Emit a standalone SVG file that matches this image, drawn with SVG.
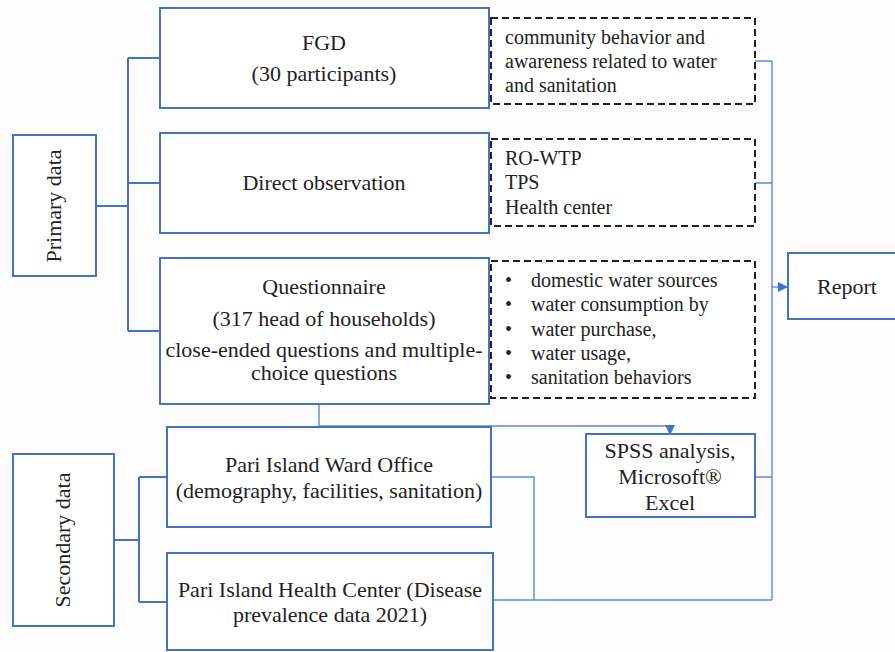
<svg xmlns="http://www.w3.org/2000/svg" width="895" height="652" viewBox="0 0 895 652">
<style>
  .box{fill:#fff;stroke:#4472C4;stroke-width:2}
  .dash{fill:#fff;stroke:#222;stroke-width:2;stroke-dasharray:7,4}
  .br{fill:none;stroke:#4472C4;stroke-width:2}
  .cn{fill:none;stroke:#5B8BD6;stroke-width:1.4}
  .t{font-family:"Liberation Serif","Times New Roman",serif;font-size:22px;fill:#222;text-anchor:middle}
  .s{font-family:"Liberation Serif","Times New Roman",serif;font-size:20px;fill:#222}
</style>
<defs>
  <marker id="ah" markerWidth="10" markerHeight="10" refX="9" refY="5" orient="auto" markerUnits="userSpaceOnUse">
    <path d="M0,0 L10,5 L0,10 z" fill="#3F72CF"/>
  </marker>
</defs>
<rect width="895" height="652" fill="#fdfdfd"/>

<g id="connectors">
  <path class="br" d="M96,206 H128 M128,58 V331 M128,58 H160 M128,183 H160 M128,331 H160"/>
  <path class="br" d="M114,540 H139 M139,477 V602 M139,477 H167 M139,602 H167"/>
  <path class="cn" d="M755,61 H772 M755,183 H772 M772,61 V600 M755,477 H772 M491,477 H534 V600 M493,600 H772"/>
  <path class="cn" d="M772,287 H787" marker-end="url(#ah)"/>
  <path class="cn" d="M319,405 V426 H670 V434" marker-end="url(#ah)"/>
</g>

<g id="primary">
  <rect class="box" x="13" y="135" width="83" height="141"/>
  <text class="t" transform="translate(61,206) rotate(-90)">Primary data</text>
</g>
<g id="secondary">
  <rect class="box" x="13" y="454" width="101" height="172"/>
  <text class="t" transform="translate(70,540) rotate(-90)">Secondary data</text>
</g>

<g id="fgd">
  <rect class="box" x="160" y="8" width="329" height="100"/>
  <text class="t" x="324" y="50">FGD</text>
  <text class="t" x="324" y="81">(30 participants)</text>
</g>
<g id="fgd-notes">
  <rect class="dash" x="491" y="18" width="264" height="86"/>
  <text class="s" x="505" y="44">community behavior and</text>
  <text class="s" x="505" y="68">awareness related to water</text>
  <text class="s" x="505" y="92">and sanitation</text>
</g>

<g id="observation">
  <rect class="box" x="160" y="133" width="329" height="100"/>
  <text class="t" x="324" y="190">Direct observation</text>
</g>
<g id="observation-notes">
  <rect class="dash" x="491" y="139" width="264" height="87"/>
  <text class="s" x="505" y="165">RO-WTP</text>
  <text class="s" x="505" y="189">TPS</text>
  <text class="s" x="505" y="214">Health  center</text>
</g>

<g id="questionnaire">
  <rect class="box" x="160" y="258" width="329" height="146"/>
  <text class="t" x="324" y="294">Questionnaire</text>
  <text class="t" x="324" y="326">(317 head of households)</text>
  <text class="t" x="324" y="357">close-ended questions and multiple-</text>
  <text class="t" x="324" y="380">choice questions</text>
</g>
<g id="questionnaire-notes">
  <rect class="dash" x="491" y="261" width="264" height="137"/>
  <g class="s">
    <text x="505" y="287">•</text><text x="531" y="287">domestic water sources</text>
    <text x="505" y="311">•</text><text x="531" y="311">water consumption by</text>
    <text x="505" y="336">•</text><text x="531" y="336">water purchase,</text>
    <text x="505" y="360">•</text><text x="531" y="360">water usage,</text>
    <text x="505" y="384">•</text><text x="531" y="384">sanitation behaviors</text>
  </g>
</g>

<g id="report">
  <rect class="box" x="788" y="253" width="120" height="66"/>
  <text class="t" x="847" y="294">Report</text>
</g>

<g id="spss">
  <rect class="box" x="586" y="434" width="169" height="83"/>
  <text class="t" x="670" y="458">SPSS analysis,</text>
  <text class="t" x="670" y="484">Microsoft®</text>
  <text class="t" x="670" y="510">Excel</text>
</g>

<g id="ward">
  <rect class="box" x="167" y="427" width="324" height="100"/>
  <text class="t" x="329" y="472">Pari Island Ward Office</text>
  <text class="t" x="329" y="498">(demography, facilities,  sanitation)</text>
</g>
<g id="health">
  <rect class="box" x="167" y="553" width="326" height="97"/>
  <text class="t" x="330" y="597">Pari Island Health Center (Disease</text>
  <text class="t" x="330" y="622">prevalence data 2021)</text>
</g>
</svg>
